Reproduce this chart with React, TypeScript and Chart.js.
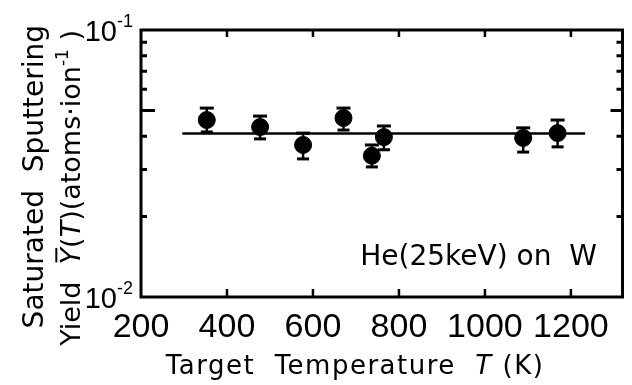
import React, { useEffect, useRef } from 'react';
import { Chart, registerables } from 'chart.js';

Chart.register(...registerables);

// ---- data ----
const temperatures = [353, 477, 577, 671, 737, 765, 1089, 1169];
const yieldValues = [0.046, 0.0433, 0.0371, 0.0468, 0.0338, 0.0397, 0.0394, 0.0411];
const yieldHigh = [0.051, 0.0476, 0.0411, 0.051, 0.0371, 0.0437, 0.043, 0.046];
const yieldLow = [0.0415, 0.0391, 0.0329, 0.0422, 0.0307, 0.0356, 0.0349, 0.0365];
const fitLineT = [296, 1233];
const fitLineY = [0.041, 0.041];

const xTicks = [200, 400, 600, 800, 1000, 1200];
const xInnerTicks = [400, 600, 800, 1000, 1200];
const yLabelValues = [0.1, 0.01];
const yLabelExponents = ['-1', '-2'];
const yMinorTicks = [0.02, 0.03, 0.04, 0.06, 0.07, 0.08, 0.09];
const yMajorTicks = [0.05];

const annotationText = 'He(25keV) on  W';
const annotationT = 710;
const annotationY = 0.0132;

const TEXT_FONT = '"DejaVu Sans", "Noto Sans", sans-serif';
const NUM_FONT = '"Liberation Sans Narrow", "Liberation Sans", Arial, sans-serif';

type Seg = { text: string; size: number; italic?: boolean; rise?: number; overline?: boolean; family?: string };

function drawSegs(
  ctx: CanvasRenderingContext2D,
  segs: Seg[],
  x: number,
  y: number,
  align: 'left' | 'right' | 'center',
  spacing = 0
) {
  const c: any = ctx;
  const prevSpacing = c.letterSpacing;
  if ('letterSpacing' in c) c.letterSpacing = `${spacing}px`;
  const widths = segs.map((s) => {
    ctx.font = `${s.italic ? 'italic ' : ''}${s.size}px ${s.family || TEXT_FONT}`;
    return ctx.measureText(s.text).width;
  });
  const total = widths.reduce((a, b) => a + b, 0);
  let cx = align === 'right' ? x - total : align === 'center' ? x - total / 2 : x;
  ctx.textAlign = 'left';
  ctx.textBaseline = 'alphabetic';
  segs.forEach((s, i) => {
    ctx.font = `${s.italic ? 'italic ' : ''}${s.size}px ${s.family || TEXT_FONT}`;
    const yy = y - (s.rise || 0);
    ctx.fillText(s.text, cx, yy);
    if (s.overline) {
      ctx.beginPath();
      ctx.lineWidth = 2;
      const oy = yy - s.size * 0.729 - 4;
      ctx.moveTo(cx + 2, oy);
      ctx.lineTo(cx + widths[i], oy);
      ctx.stroke();
    }
    cx += widths[i];
  });
  if ('letterSpacing' in c) c.letterSpacing = prevSpacing || '0px';
}

export default function App() {
  const ref = useRef<HTMLCanvasElement>(null);

  useEffect(() => {
    const canvas = ref.current;
    if (!canvas) return;

    const background = {
      id: 'background',
      beforeDraw(chart: any) {
        const ctx = chart.ctx;
        ctx.save();
        ctx.fillStyle = '#fff';
        ctx.fillRect(0, 0, chart.width, chart.height);
        ctx.restore();
      },
    };

    const errorBars = {
      id: 'errorBars',
      beforeDatasetsDraw(chart: any) {
        const ctx = chart.ctx;
        const xs = chart.scales.x;
        const ys = chart.scales.y;
        ctx.save();
        ctx.strokeStyle = '#000';
        ctx.fillStyle = '#000';
        temperatures.forEach((t, i) => {
          const px = xs.getPixelForValue(t);
          const hi = ys.getPixelForValue(yieldHigh[i]);
          const lo = ys.getPixelForValue(yieldLow[i]);
          ctx.lineWidth = 2.5;
          ctx.beginPath();
          ctx.moveTo(px, hi);
          ctx.lineTo(px, lo);
          ctx.stroke();
          ctx.fillRect(px - 7, hi - 1.5, 14, 3);
          ctx.fillRect(px - 6, lo - 1.5, 12, 3);
        });
        ctx.restore();
      },
    };

    const overlay = {
      id: 'overlay',
      afterDraw(chart: any) {
        const ctx: CanvasRenderingContext2D = chart.ctx;
        const xs = chart.scales.x;
        const ys = chart.scales.y;
        const { left, right, top, bottom } = chart.chartArea;
        ctx.save();
        ctx.strokeStyle = '#000';
        ctx.fillStyle = '#000';

        // frame
        ctx.lineWidth = 3;
        ctx.strokeRect(left, top, right - left, bottom - top);

        // inward x ticks (bottom and top)
        ctx.lineWidth = 2.5;
        xInnerTicks.forEach((v) => {
          const px = xs.getPixelForValue(v);
          ctx.beginPath();
          ctx.moveTo(px, bottom);
          ctx.lineTo(px, bottom - 8);
          ctx.moveTo(px, top);
          ctx.lineTo(px, top + 7);
          ctx.stroke();
        });
        // inward y ticks (left and right)
        ctx.lineWidth = 3;
        yMinorTicks.forEach((v) => {
          const py = ys.getPixelForValue(v);
          ctx.beginPath();
          ctx.moveTo(left, py);
          ctx.lineTo(left + 6, py);
          ctx.moveTo(right, py);
          ctx.lineTo(right - 6, py);
          ctx.stroke();
        });
        yMajorTicks.forEach((v) => {
          const py = ys.getPixelForValue(v);
          ctx.beginPath();
          ctx.moveTo(left, py);
          ctx.lineTo(left + 14, py);
          ctx.moveTo(right, py);
          ctx.lineTo(right - 12, py);
          ctx.stroke();
        });

        // y tick labels with superscripts
        yLabelValues.forEach((v, i) => {
          const py = ys.getPixelForValue(v);
          drawSegs(
            ctx,
            [
              { text: '10', size: 29, family: NUM_FONT },
              { text: yLabelExponents[i], size: 18, rise: 14, family: NUM_FONT },
            ],
            left - 8,
            py + 11,
            'right'
          );
        });

        // x axis title
        drawSegs(
          ctx,
          [
            { text: 'Target  Temperature  ', size: 26 },
            { text: 'T', size: 26, italic: true },
            { text: ' (K)', size: 26 },
          ],
          355,
          374,
          'center',
          1.5
        );

        // y axis title (two rotated lines)
        ctx.save();
        ctx.translate(43, 25);
        ctx.rotate(-Math.PI / 2);
        drawSegs(ctx, [{ text: 'Saturated  Sputtering', size: 28 }], 0, 0, 'right');
        ctx.restore();

        ctx.save();
        ctx.translate(80, 30);
        ctx.rotate(-Math.PI / 2);
        drawSegs(
          ctx,
          [
            { text: 'Yield  ', size: 27 },
            { text: 'Y', size: 27, italic: true, overline: true },
            { text: '(', size: 27 },
            { text: 'T', size: 27, italic: true },
            { text: ')(atoms·ion', size: 27 },
            { text: '-1', size: 17, rise: 12 },
            { text: ' )', size: 27 },
          ],
          0,
          0,
          'right'
        );
        ctx.restore();

        // annotation
        drawSegs(
          ctx,
          [{ text: annotationText, size: 28 }],
          xs.getPixelForValue(annotationT),
          ys.getPixelForValue(annotationY),
          'left'
        );

        ctx.restore();
      },
    };

    const chart = new Chart(canvas, {
      type: 'scatter',
      data: {
        datasets: [
          {
            type: 'scatter',
            data: temperatures.map((t, i) => ({ x: t, y: yieldValues[i] })),
            backgroundColor: '#000',
            borderColor: '#000',
            pointRadius: 8.5,
            pointHoverRadius: 8.5,
          },
          {
            type: 'line',
            data: fitLineT.map((t, i) => ({ x: t, y: fitLineY[i] })),
            borderColor: '#000',
            borderWidth: 2.5,
            pointRadius: 0,
            showLine: true,
            fill: false,
          } as any,
        ],
      },
      options: {
        animation: false,
        responsive: false,
        events: [],
        layout: { padding: { top: 30, right: 2, left: 0, bottom: 0 } },
        plugins: { legend: { display: false }, tooltip: { enabled: false } },
        scales: {
          x: {
            type: 'linear',
            min: 200,
            max: 1320,
            grid: { display: false, drawTicks: false },
            border: { display: false },
            ticks: {
              color: '#000',
              padding: 10,
              maxRotation: 0,
              font: { family: NUM_FONT, size: 34 },
              callback: (v: any) => String(v),
            },
            afterBuildTicks: (s: any) => {
              s.ticks = xTicks.map((v) => ({ value: v }));
            },
            afterFit: (s: any) => {
              s.height = 88;
            },
          },
          y: {
            type: 'logarithmic',
            min: 0.01,
            max: 0.1,
            grid: { display: false, drawTicks: false },
            border: { display: false },
            ticks: { display: false },
            afterBuildTicks: (s: any) => {
              s.ticks = yLabelValues.map((v) => ({ value: v }));
            },
            afterFit: (s: any) => {
              s.width = 141;
            },
          },
        },
      } as any,
      plugins: [background, errorBars, overlay],
    });

    return () => chart.destroy();
  }, []);

  return (
    <div style={{ position: 'fixed', left: 0, top: 0, width: 632, height: 385, background: '#fff' }}>
      <canvas ref={ref} width={632} height={385} style={{ display: 'block' }} />
    </div>
  );
}
